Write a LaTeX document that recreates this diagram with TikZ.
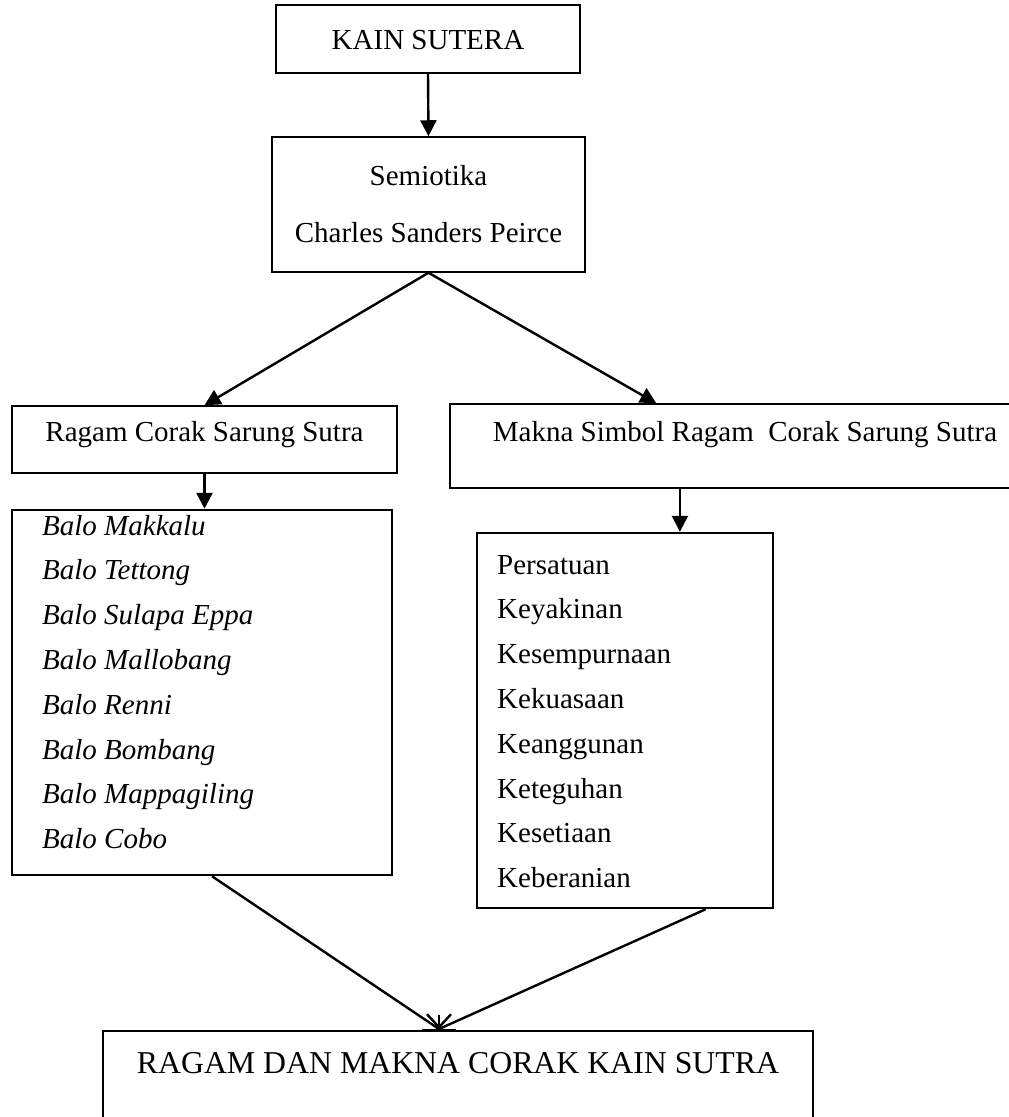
\documentclass[tikz,border=0pt]{standalone}
\usepackage{fontspec}
\setmainfont{Liberation Serif}
\usetikzlibrary{arrows.meta, positioning, calc}

\tikzset{
  kotak/.style={draw, line width=1.5pt, inner sep=0pt, font=\fontsize{29}{35}\selectfont},
  tebal/.style={kotak, line width=2.5pt},
  isian/.style={inner sep=0pt, anchor=base west, font=\fontsize{29}{35}\selectfont},
  panah/.style={line width=2.4pt, -{Triangle[length=16pt,width=16pt]}},
  garis/.style={line width=2.4pt}
}

\begin{document}
\begin{tikzpicture}[x=1pt, y=-1pt]
    \useasboundingbox (0,0) rectangle (1009,1117);
    % kotak atas
    \node[kotak, anchor=base, minimum width=304pt, text height=44pt, text depth=24pt] (kain) at (428,49) {KAIN SUTERA};
    \node[kotak, minimum width=313pt, minimum height=135pt, align=center, font=\fontsize{29}{57}\selectfont] (semiotika) at (428.5,204.5) {Semiotika\\Charles Sanders Peirce};
    \node[kotak, anchor=base, minimum width=385pt, text height=35pt, text depth=32pt] (ragam) at (204.5,441) {Ragam Corak Sarung Sutra};
    \node[kotak, anchor=base, minimum width=590pt, text height=37pt, text depth=47pt] (makna) at (745,441) {Makna Simbol Ragam\ \ Corak Sarung Sutra};
    % kotak daftar
    \node[tebal, minimum width=380pt, minimum height=365pt] (balo) at (202,692.5) {};
    \foreach \t [count=\i] in {Balo Makkalu, Balo Tettong, Balo Sulapa Eppa, Balo Mallobang, Balo Renni, Balo Bombang, Balo Mappagiling, Balo Cobo}
        \node[isian, font=\fontsize{29}{35}\selectfont\itshape] (b\i) at (42,{535+44.8*(\i-1)}) {\t};
    \node[tebal, minimum width=296pt, minimum height=375pt] (nilai) at (625,720.5) {};
    \foreach \t [count=\i] in {Persatuan, Keyakinan, Kesempurnaan, Kekuasaan, Keanggunan, Keteguhan, Kesetiaan, Keberanian}
        \node[isian] (n\i) at (497,{574+44.8*(\i-1)}) {\t};
    % kotak bawah
    \node[tebal, anchor=base, minimum width=710pt, text height=42pt, text depth=100pt, font=\fontsize{31.8}{38}\selectfont] (hasil) at (458,1073) {RAGAM DAN MAKNA CORAK KAIN SUTRA};
    \coordinate (temu) at (439,1029);
    % panah
    \draw[panah] (kain.south) -- (semiotika.north);
    \draw[panah] (semiotika.south) -- (ragam.north);
    \draw[panah] (semiotika.south) -- ($(makna.north west)!0.35!(makna.north east)$);
    \draw[panah] (ragam.south) -- (ragam.south |- balo.north);
    \draw[panah] ($(makna.south west)!0.39!(makna.south east)$) coordinate (m) -- (m |- nilai.north);
    \draw[garis] ($(balo.south)+(10,0)$) -- (temu);
    \draw[garis] ($(nilai.south west)!0.77!(nilai.south east)$) -- (temu);
    \draw[garis, -{Straight Barb[length=13pt,width=24pt]}] ($(temu)+(0,-14)$) -- (temu);
    \draw[line width=3pt] ($(temu)+(-17,1)$) -- ($(temu)+(17,1)$);
\end{tikzpicture}
\end{document}
